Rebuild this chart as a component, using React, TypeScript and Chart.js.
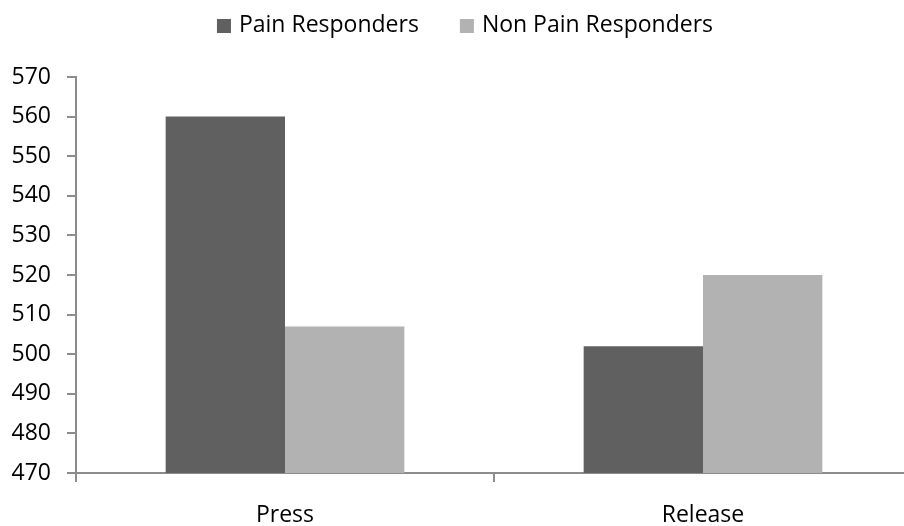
import React, { useEffect, useRef } from "react";
import { Chart, registerables } from "chart.js";

Chart.register(...registerables);

const categories = ["Press", "Release"];
const seriesNames = ["Pain Responders", "Non Pain Responders"];
const painValues = [560, 502];
const nonPainValues = [507, 520];
const yMin = 470;
const yMax = 570;
const yStep = 10;

const FONT = "'Open Sans', sans-serif";
const FONT_SIZE = 23;
const colors = ["#606060", "#b2b2b2"];
const axisColor = "#8c8c8c";

const legendPlugin = {
  id: "customLegend",
  afterDraw(chart: any) {
    const ctx = chart.ctx;
    ctx.save();
    ctx.font = `${FONT_SIZE}px ${FONT}`;
    ctx.textBaseline = "middle";
    ctx.textAlign = "left";
    const box = 14;
    const gapText = 8;
    const gapItem = 41;
    const items = chart.data.datasets.map((d: any) => ({
      label: d.label,
      color: d.backgroundColor,
      w: ctx.measureText(d.label).width,
    }));
    const total =
      items.reduce((s: number, it: any) => s + box + gapText + it.w, 0) +
      gapItem * (items.length - 1);
    let x = 465 - total / 2;
    const cy = 25;
    items.forEach((it: any) => {
      ctx.fillStyle = it.color;
      ctx.fillRect(x, cy - box / 2 + 1, box, box);
      ctx.fillStyle = "#000000";
      ctx.fillText(it.label, x + box + gapText, cy);
      x += box + gapText + it.w + gapItem;
    });
    ctx.restore();
  },
};

export default function App() {
  const ref = useRef<HTMLCanvasElement>(null);
  useEffect(() => {
    document.body.style.margin = "0";
    const chart = new Chart(ref.current as HTMLCanvasElement, {
      type: "bar",
      data: {
        labels: categories,
        datasets: [
          { label: seriesNames[0], data: painValues, backgroundColor: colors[0] },
          { label: seriesNames[1], data: nonPainValues, backgroundColor: colors[1] },
        ],
      },
      options: {
        responsive: false,
        animation: false,
        layout: { padding: { top: 77, left: 0, right: 0, bottom: 0 } },
        plugins: { legend: { display: false }, tooltip: { enabled: false } },
        datasets: { bar: { categoryPercentage: 0.571, barPercentage: 1 } },
        scales: {
          x: {
            afterFit(scale: any) {
              scale.height = 53;
            },
            grid: {
              display: true,
              drawOnChartArea: false,
              drawTicks: true,
              tickLength: 9,
              color: axisColor,
              lineWidth: 2,
              offset: true,
            },
            border: { display: true, color: axisColor, width: 2 },
            ticks: { color: "#000", font: { family: FONT, size: FONT_SIZE }, padding: 20 },
          },
          y: {
            min: yMin,
            max: yMax,
            afterFit(scale: any) {
              scale.width = 76;
            },
            ticks: { stepSize: yStep, color: "#000", font: { family: FONT, size: FONT_SIZE }, padding: 16 },
            grid: {
              display: true,
              drawOnChartArea: false,
              drawTicks: true,
              tickLength: 9,
              color: axisColor,
              lineWidth: 2,
            },
            border: { display: true, color: axisColor, width: 2 },
          },
        },
      },
      plugins: [legendPlugin],
    });
    return () => chart.destroy();
  }, []);
  return (
    <div style={{ width: 904, height: 526, overflow: "hidden", background: "#fff" }}>
      <canvas ref={ref} width={912} height={526} style={{ display: "block" }} />
    </div>
  );
}
